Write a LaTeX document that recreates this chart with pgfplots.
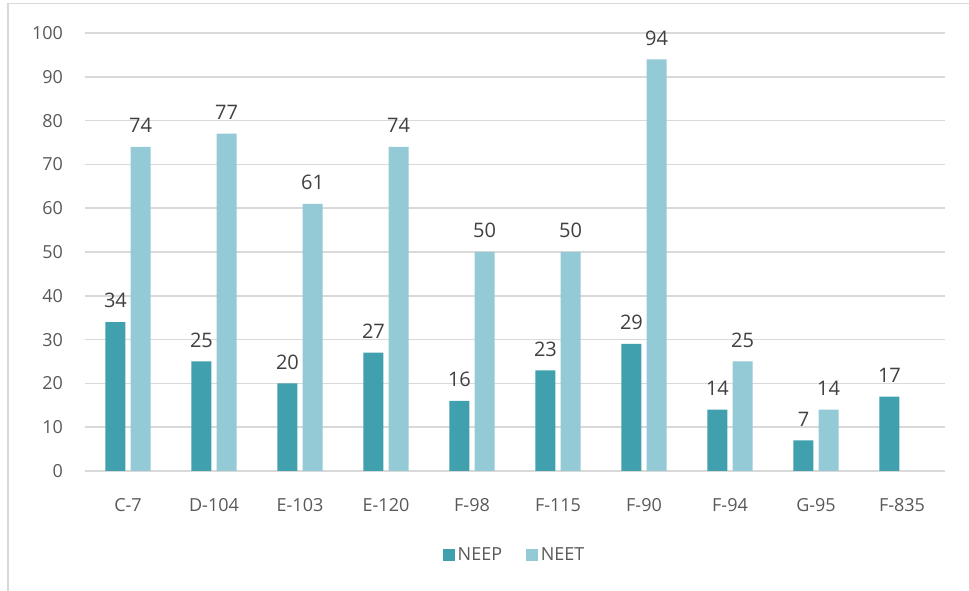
\documentclass[border=0pt]{standalone}
\usepackage{pgfplots}
\pgfplotsset{compat=1.18}
\usepackage{fontspec}
\setmainfont{Open Sans}
\definecolor{neep}{HTML}{40A0AE}
\definecolor{neet}{HTML}{93CAD6}
\definecolor{gridc}{HTML}{D9D9D9}
\definecolor{tickc}{HTML}{595959}
\definecolor{lblc}{HTML}{404040}
\begin{document}
\begin{tikzpicture}
\path[use as bounding box] (0pt,0pt) rectangle (726.75pt,443.25pt);
\begin{scope}
\clip (0pt,0pt) rectangle (726.75pt,443.25pt);
\draw[gridc, line width=1.1pt] (6pt,-10pt) -- (6pt,440.5pt) -- (740pt,440.5pt);
\end{scope}
\begin{axis}[
  at={(63.75pt,90pt)}, anchor=south west,
  scale only axis, width=645pt, height=328.5pt,
  xmin=-0.5, xmax=9.5, ymin=0, ymax=100,
  axis line style={draw=none},
  /pgf/number format/assume math mode=true,
  ytick={0,10,...,100},
  ymajorgrids, grid style={gridc, line width=1.1pt},
  xtick={0,...,9},
  xticklabels={C-7,D-104,E-103,E-120,F-98,F-115,F-90,F-94,G-95,F-835},
  major tick length=0pt,
  tick label style={font=\fontsize{13.5}{16}\selectfont, text=tickc},
  xticklabel style={yshift=-17pt},
  yticklabel style={xshift=-13pt},
  every axis plot/.append style={draw=none, bar width=15pt},
  nodes near coords,
  nodes near coords style={font=\fontsize{15}{18}\selectfont, text=lblc, yshift=7pt},
  legend style={at={(0.5,0)}, anchor=north, yshift=-53pt, draw=none, fill=none, font=\fontsize{13.5}{16}\selectfont, text=tickc, legend columns=2, /tikz/every even column/.append style={column sep=16pt}},
  legend image code/.code={\fill[#1] (0pt,-4.5pt) rectangle (9pt,4.5pt);},
]
\addplot[ybar, fill=neep, bar shift=-9.4pt, every node near coord/.append style={xshift=-9.4pt}] coordinates {(0,34) (1,25) (2,20) (3,27) (4,16) (5,23) (6,29) (7,14) (8,7) (9,17)};
\addplot[ybar, fill=neet, bar shift=9.4pt, every node near coord/.append style={xshift=9.4pt}] coordinates {(0,74) (1,77) (2,61) (3,74) (4,50) (5,50) (6,94) (7,25) (8,14)};
\legend{NEEP,NEET}
\end{axis}
\end{tikzpicture}
\end{document}
